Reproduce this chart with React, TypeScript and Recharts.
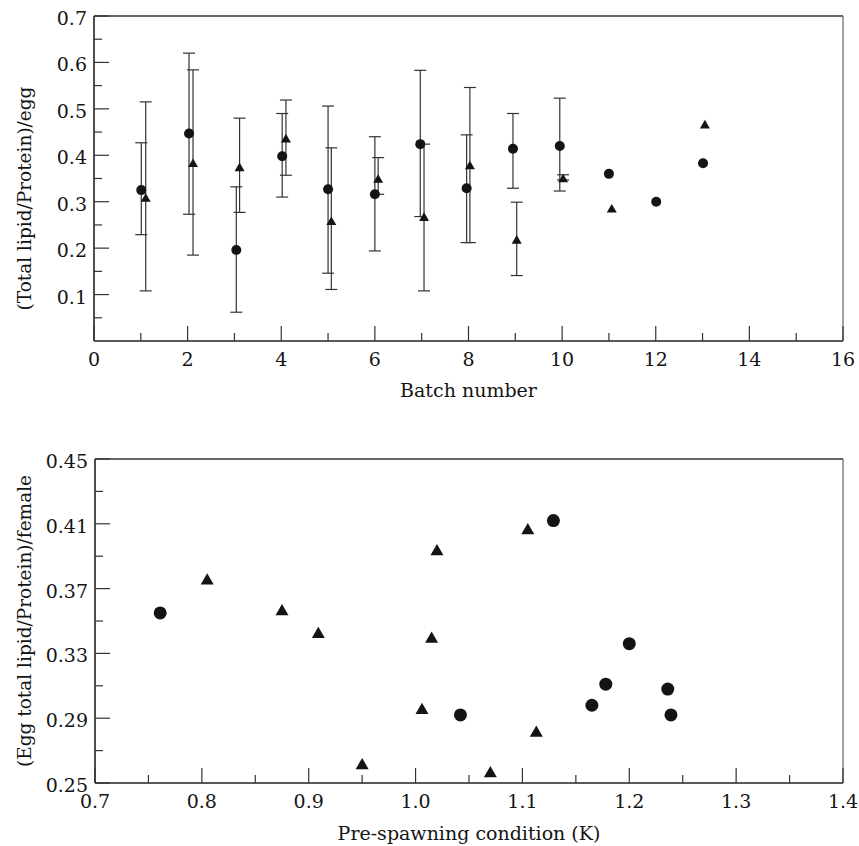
import React from 'react'
import { ScatterChart, Scatter, XAxis, YAxis, ErrorBar, ReferenceLine } from 'recharts'

const FONT = '"DejaVu Serif", "Liberation Serif", serif'
const INK = '#141414'
const AXIS = '#222'
const TICK = '#333'
const TICK_GAP = 7 // y labels sit this far left of the axis
const X_GAP = 12 // x labels sit this far below the axis

// ---- top panel: ratio per egg by batch ----
const CIRCLE_BATCH = [1.01, 2.03, 3.04, 4.02, 5.0, 6.0, 6.97, 7.96, 8.95, 9.95, 11.0, 12.01, 13.01]
const CIRCLE_MEAN = [0.325, 0.447, 0.196, 0.398, 0.327, 0.316, 0.424, 0.329, 0.414, 0.42, 0.36, 0.3, 0.383]
const CIRCLE_LOW = [0.229, 0.273, 0.062, 0.31, 0.146, 0.194, 0.268, 0.212, 0.329, 0.323, null, null, null]
const CIRCLE_HIGH = [0.427, 0.62, 0.332, 0.49, 0.506, 0.44, 0.583, 0.444, 0.49, 0.523, null, null, null]

const TRI_BATCH = [1.105, 2.115, 3.11, 4.1, 5.07, 6.07, 7.05, 8.03, 9.03, 10.02, 11.06, 13.05]
const TRI_MEAN = [0.309, 0.384, 0.375, 0.437, 0.259, 0.35, 0.268, 0.379, 0.219, 0.351, 0.286, 0.467]
const TRI_LOW = [0.108, 0.185, 0.277, 0.357, 0.111, 0.316, 0.108, 0.212, 0.141, 0.347, null, null]
const TRI_HIGH = [0.515, 0.584, 0.48, 0.519, 0.416, 0.395, 0.424, 0.546, 0.299, 0.358, null, null]

const Y1_MAJOR = [0.1, 0.2, 0.3, 0.4, 0.5, 0.6, 0.7]
const Y1_LABELS = ['0.1', '0.2', '0.3', '0.4', '0.5', '0.6', '0.7']
const Y1_MINOR = [0.05, 0.15, 0.25, 0.35, 0.45, 0.55, 0.65]
const X1_MAJOR = [0, 2, 4, 6, 8, 10, 12, 14, 16]
const X1_LABELS = ['0', '2', '4', '6', '8', '10', '12', '14', '16']
const X1_MINOR = [1, 3, 5, 7, 9, 11, 13, 15]

// ---- bottom panel: ratio per female vs condition ----
const CIRCLE_K = [0.761, 1.042, 1.129, 1.165, 1.178, 1.2, 1.236, 1.239]
const CIRCLE_RATIO = [0.355, 0.292, 0.412, 0.298, 0.311, 0.336, 0.308, 0.292]
const TRI_K = [0.805, 0.875, 0.909, 0.95, 1.006, 1.015, 1.02, 1.07, 1.105, 1.113]
const TRI_RATIO = [0.376, 0.357, 0.343, 0.262, 0.296, 0.34, 0.394, 0.257, 0.407, 0.282]

const Y2_MAJOR = [0.25, 0.29, 0.33, 0.37, 0.41, 0.45]
const Y2_LABELS = ['0.25', '0.29', '0.33', '0.37', '0.41', '0.45']
const Y2_MINOR = [0.27, 0.31, 0.35, 0.39, 0.43]
const X2_MAJOR = [0.7, 0.8, 0.9, 1.0, 1.1, 1.2, 1.3, 1.4]
const X2_LABELS = ['0.7', '0.8', '0.9', '1.0', '1.1', '1.2', '1.3', '1.4']
const X2_MINOR = [0.75, 0.85, 0.95, 1.05, 1.15, 1.25, 1.35]

function withErrors(xs: number[], ys: number[], lo: (number | null)[], hi: (number | null)[]) {
  return xs.map((x, i) => ({
    x,
    y: ys[i],
    err: lo[i] == null || hi[i] == null ? undefined : [ys[i] - (lo[i] as number), (hi[i] as number) - ys[i]],
  }))
}

const topCircles = withErrors(CIRCLE_BATCH, CIRCLE_MEAN, CIRCLE_LOW, CIRCLE_HIGH)
const topTriangles = withErrors(TRI_BATCH, TRI_MEAN, TRI_LOW, TRI_HIGH)
const bottomCircles = CIRCLE_K.map((x, i) => ({ x, y: CIRCLE_RATIO[i] }))
const bottomTriangles = TRI_K.map((x, i) => ({ x, y: TRI_RATIO[i] }))

const findMajor = (major: number[], v: number) => major.findIndex(m => Math.abs(m - v) < 1e-9)

function YTick({ x, y, payload, major, labels }: any) {
  const i = findMajor(major, payload.value)
  const ax = x + TICK_GAP
  return (
    <g>
      <line x1={ax} x2={ax + (i >= 0 ? 15 : 8)} y1={y} y2={y} stroke={TICK} strokeWidth={1.2} />
      {i >= 0 && (
        <text x={x} y={y} dy="0.47em" textAnchor="end" fontFamily={FONT} fontSize={19} fill={INK}>
          {labels[i]}
        </text>
      )}
    </g>
  )
}

function XTick({ x, y, payload, major, labels }: any) {
  const i = findMajor(major, payload.value)
  const ay = y - X_GAP
  return (
    <g>
      <line x1={x} x2={x} y1={ay} y2={ay - (i >= 0 ? 15 : 8)} stroke={TICK} strokeWidth={1.2} />
      {i >= 0 && (
        <text x={x} y={y} dy="0.71em" textAnchor="middle" fontFamily={FONT} fontSize={19} fill={INK}>
          {labels[i]}
        </text>
      )}
    </g>
  )
}

const circle = (r: number) => (p: any) => <circle cx={p.cx} cy={p.cy} r={r} fill={INK} />
const triangle = (w: number) => (p: any) => {
  const h = w * 0.866
  return (
    <path
      d={`M${p.cx},${p.cy - h / 2}L${p.cx + w / 2},${p.cy + h / 2}L${p.cx - w / 2},${p.cy + h / 2}Z`}
      fill={INK}
    />
  )
}

const titleStyle = { fontFamily: FONT, fill: INK }

function BatchChart() {
  return (
    <ScatterChart width={859} height={410} margin={{ top: 16, right: 16, bottom: 0, left: 0 }}>
      <XAxis
        type="number"
        dataKey="x"
        domain={[0, 16]}
        ticks={[...X1_MAJOR, ...X1_MINOR]}
        interval={0}
        height={69}
        tickSize={0}
        tickMargin={X_GAP}
        tickLine={false}
        axisLine={{ stroke: AXIS, strokeWidth: 1.6 }}
        tick={(p: any) => <XTick {...p} major={X1_MAJOR} labels={X1_LABELS} />}
        label={{ value: 'Batch number', position: 'insideBottom', offset: 13, style: { ...titleStyle, fontSize: 19 } }}
      />
      <YAxis
        type="number"
        dataKey="y"
        domain={[0, 0.7]}
        ticks={[...Y1_MAJOR, ...Y1_MINOR]}
        interval={0}
        width={94}
        tickSize={0}
        tickMargin={TICK_GAP}
        tickLine={false}
        axisLine={{ stroke: AXIS, strokeWidth: 1.6 }}
        tick={(p: any) => <YTick {...p} major={Y1_MAJOR} labels={Y1_LABELS} />}
        label={{
          value: '(Total lipid/Protein)/egg',
          angle: -90,
          position: 'insideLeft',
          offset: 24,
          dy: 20,
          style: { ...titleStyle, fontSize: 18.5, textAnchor: 'middle' },
        }}
      />
      <ReferenceLine y={0.7} stroke="#333" strokeWidth={1.3} />
      <ReferenceLine x={16} stroke="#555" strokeWidth={1.1} />
      <Scatter data={topCircles} isAnimationActive={false} shape={circle(5)}>
        <ErrorBar dataKey="err" direction="y" width={6} stroke={TICK} strokeWidth={1.2} isAnimationActive={false} />
      </Scatter>
      <Scatter data={topTriangles} isAnimationActive={false} shape={triangle(10)}>
        <ErrorBar dataKey="err" direction="y" width={6} stroke={TICK} strokeWidth={1.2} isAnimationActive={false} />
      </Scatter>
    </ScatterChart>
  )
}

function ConditionChart() {
  return (
    <ScatterChart width={859} height={426} margin={{ top: 39, right: 16, bottom: 0, left: 0 }}>
      <XAxis
        type="number"
        dataKey="x"
        domain={[0.7, 1.4]}
        ticks={[...X2_MAJOR, ...X2_MINOR]}
        interval={0}
        height={63}
        tickSize={0}
        tickMargin={X_GAP}
        tickLine={false}
        axisLine={{ stroke: AXIS, strokeWidth: 1.6 }}
        tick={(p: any) => <XTick {...p} major={X2_MAJOR} labels={X2_LABELS} />}
        label={{
          value: 'Pre-spawning condition (K)',
          position: 'insideBottom',
          offset: 6,
          style: { ...titleStyle, fontSize: 19 },
        }}
      />
      <YAxis
        type="number"
        dataKey="y"
        domain={[0.25, 0.45]}
        ticks={[...Y2_MAJOR, ...Y2_MINOR]}
        interval={0}
        width={95}
        tickSize={0}
        tickMargin={TICK_GAP}
        tickLine={false}
        axisLine={{ stroke: AXIS, strokeWidth: 1.6 }}
        tick={(p: any) => <YTick {...p} major={Y2_MAJOR} labels={Y2_LABELS} />}
        label={{
          value: '(Egg total lipid/Protein)/female',
          angle: -90,
          position: 'insideLeft',
          offset: 24,
          style: { ...titleStyle, fontSize: 18.5, textAnchor: 'middle' },
        }}
      />
      <ReferenceLine y={0.45} stroke="#333" strokeWidth={1.3} />
      <ReferenceLine x={1.4} stroke="#555" strokeWidth={1.1} />
      <Scatter data={bottomCircles} isAnimationActive={false} shape={circle(6.5)} />
      <Scatter data={bottomTriangles} isAnimationActive={false} shape={triangle(13)} />
    </ScatterChart>
  )
}

export default function App() {
  return (
    <div style={{ position: 'absolute', left: 0, top: 0, width: 859, height: 846, background: '#fff' }}>
      <BatchChart />
      <div style={{ position: 'absolute', left: 0, top: 420 }}>
        <ConditionChart />
      </div>
    </div>
  )
}
